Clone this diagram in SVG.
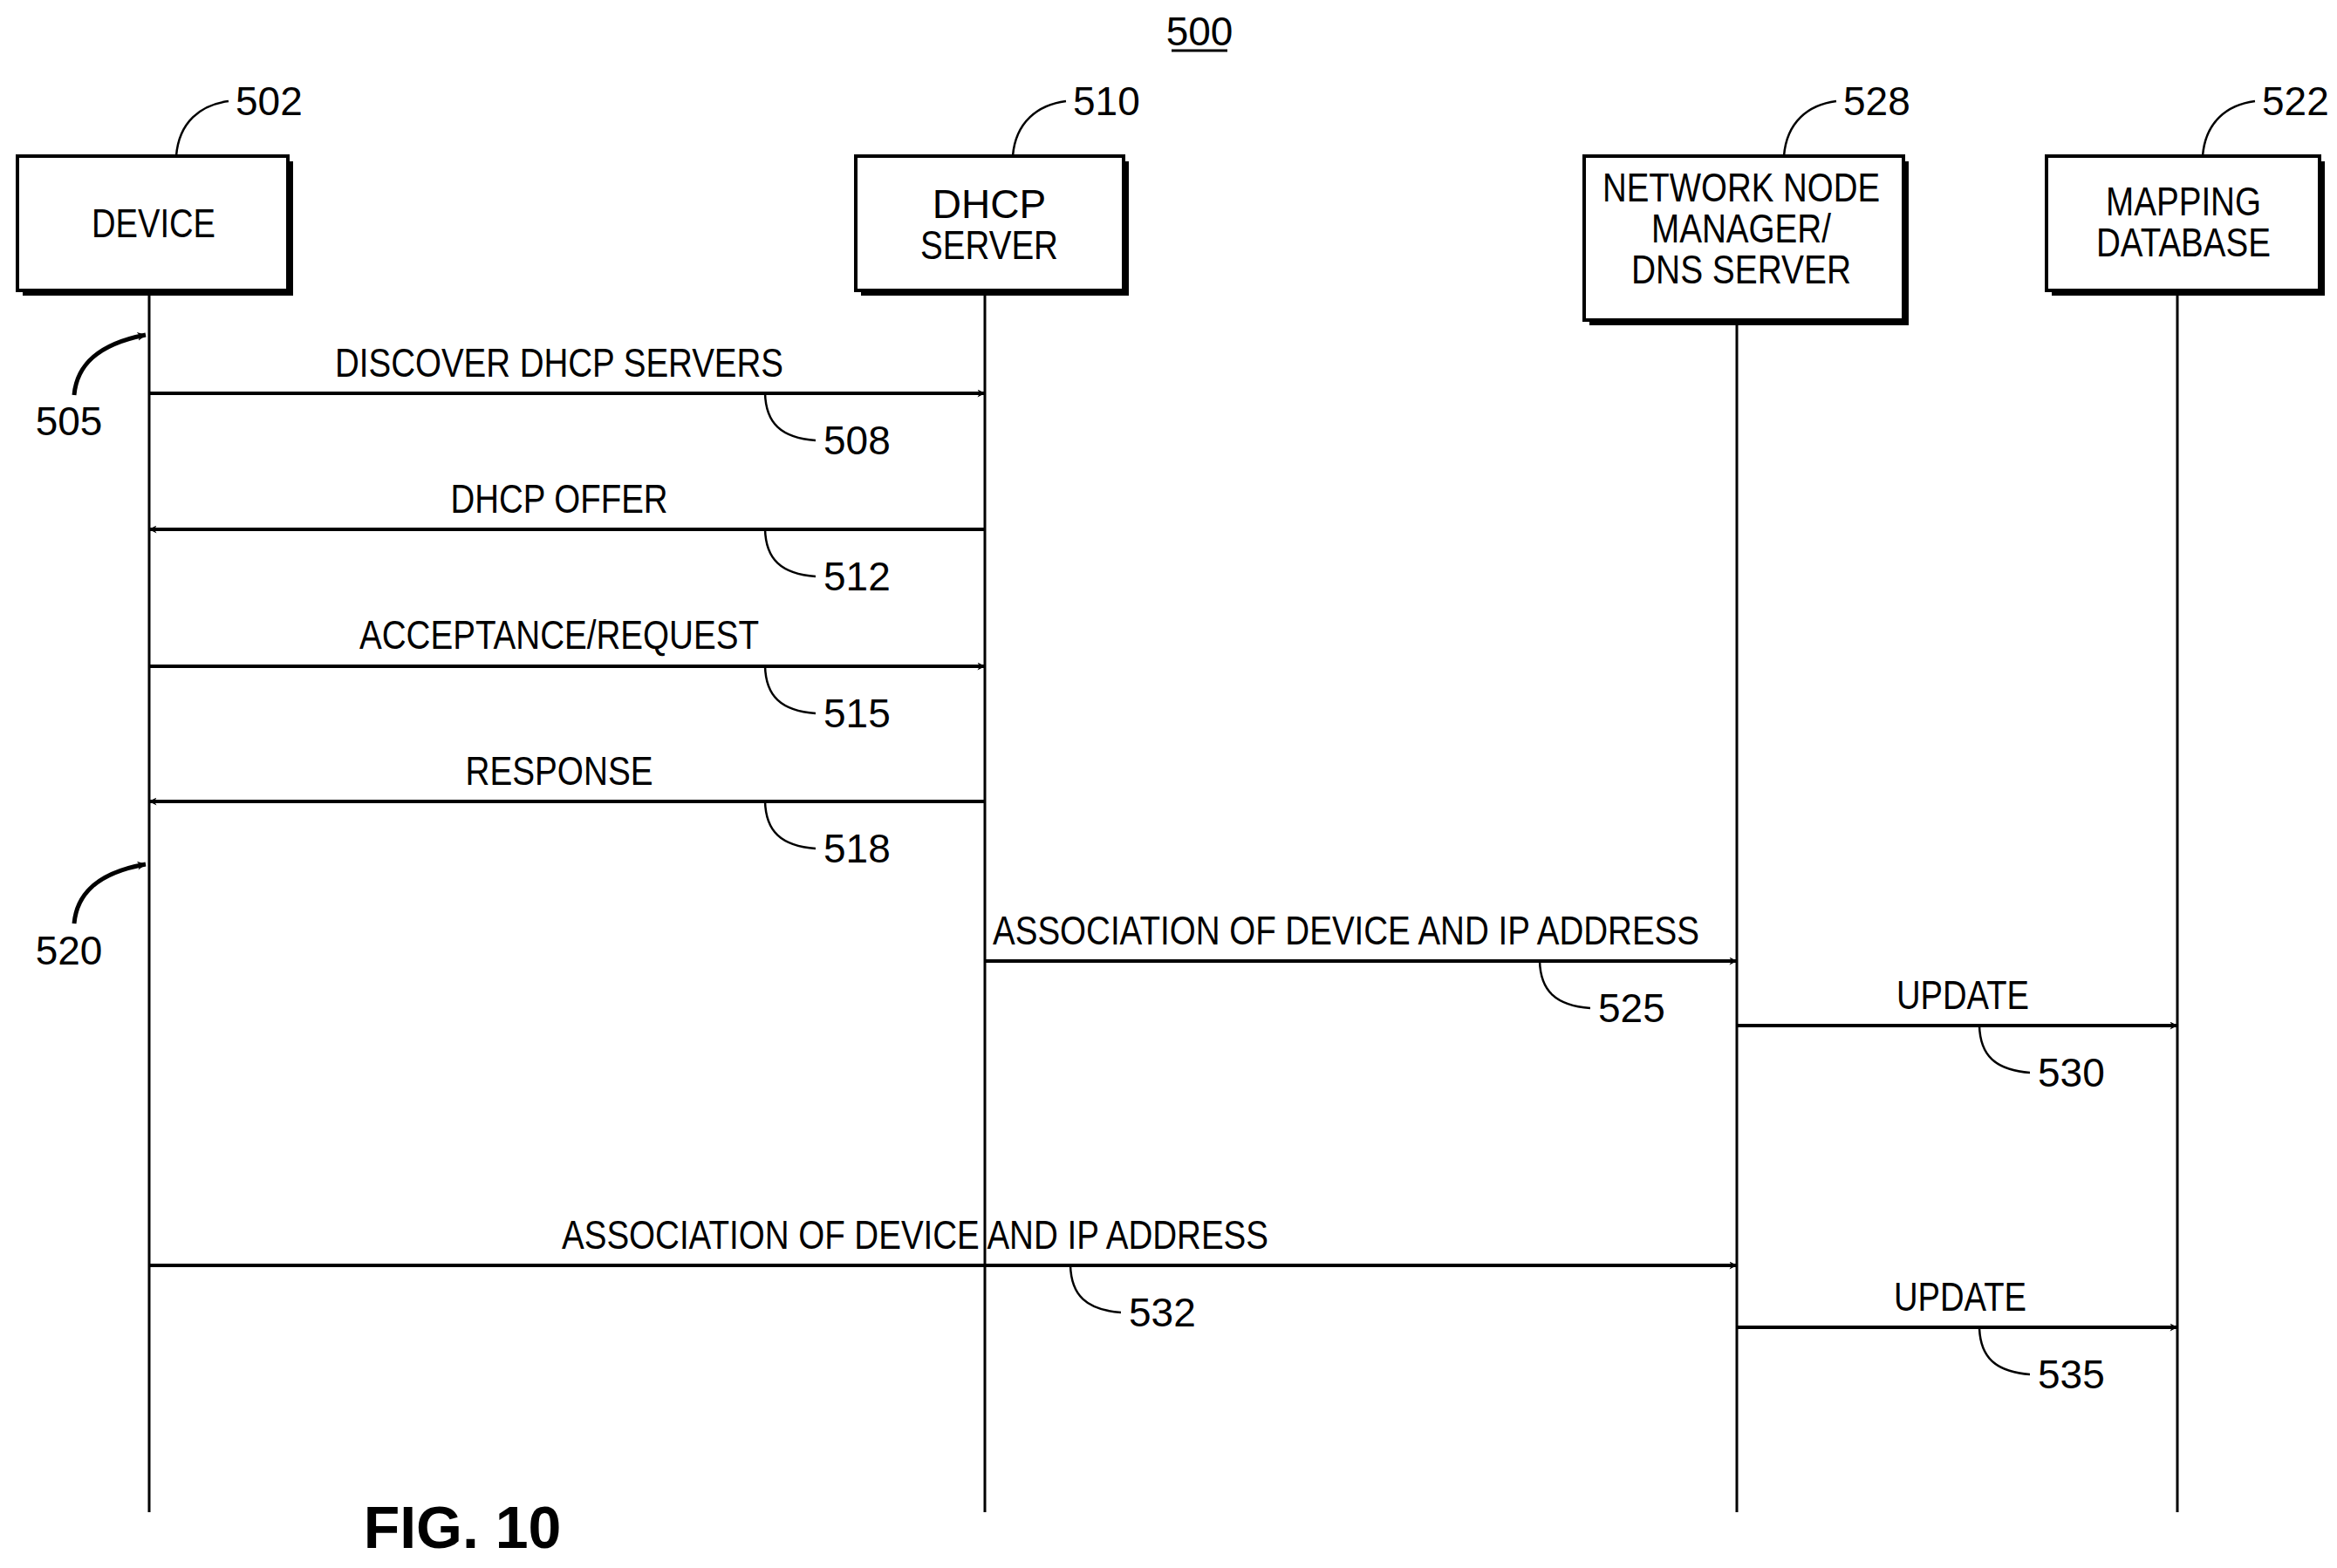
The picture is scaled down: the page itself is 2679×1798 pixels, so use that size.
<svg xmlns="http://www.w3.org/2000/svg" width="2679" height="1798" viewBox="0 0 2679 1798">
<style>
text{font-family:"Liberation Sans Narrow","Liberation Sans",Arial,sans-serif;font-size:46px;fill:#000;text-anchor:middle}
.box{fill:#fff;stroke:#000;stroke-width:4}
.sh{fill:#000}
.life{stroke:#000;stroke-width:3;fill:none}
.msg{stroke:#000;stroke-width:4;fill:none;marker-end:url(#ah)}
.lead{stroke:#000;stroke-width:2.5;fill:none}
.ref{text-anchor:start}
</style>
<defs>
<marker id="ah" viewBox="0 0 20 20" refX="19" refY="10" markerWidth="9" markerHeight="9" orient="auto" markerUnits="userSpaceOnUse">
<path d="M0,0 L20,10 L0,20 L6,10 Z" fill="#000"/>
</marker>
<marker id="ah2" viewBox="0 0 20 20" refX="19" refY="10" markerWidth="10" markerHeight="10" orient="auto" markerUnits="userSpaceOnUse">
<path d="M0,0 L20,10 L0,20 L6,10 Z" fill="#000"/>
</marker>
</defs>
<rect width="2679" height="1798" fill="#fff"/>
<text x="1375" y="52">500</text>
<line x1="1343" y1="58" x2="1407" y2="58" stroke="#000" stroke-width="3"/>

<g id="device">
<rect class="sh" x="26" y="185" width="310" height="154"/>
<rect class="box" x="20" y="179" width="310" height="154"/>
<text x="176" y="272" textLength="142" lengthAdjust="spacingAndGlyphs">DEVICE</text>
<path class="lead" d="M202,179 C205,140 230,120 262,116"/>
<text class="ref" x="270" y="132">502</text>
</g>
<g id="dhcp">
<rect class="sh" x="987" y="185" width="307" height="154"/>
<rect class="box" x="981" y="179" width="307" height="154"/>
<text x="1134" y="250">DHCP</text>
<text x="1134" y="297" textLength="158" lengthAdjust="spacingAndGlyphs">SERVER</text>
<path class="lead" d="M1161,179 C1164,140 1190,120 1222,116"/>
<text class="ref" x="1230" y="132">510</text>
</g>
<g id="nnm">
<rect class="sh" x="1822" y="185" width="366" height="188"/>
<rect class="box" x="1816" y="179" width="366" height="188"/>
<text x="1996" y="231" textLength="318" lengthAdjust="spacingAndGlyphs">NETWORK NODE</text>
<text x="1996" y="278" textLength="206" lengthAdjust="spacingAndGlyphs">MANAGER/</text>
<text x="1996" y="325" textLength="252" lengthAdjust="spacingAndGlyphs">DNS SERVER</text>
<path class="lead" d="M2045,179 C2048,140 2073,120 2105,116"/>
<text class="ref" x="2113" y="132">528</text>
</g>
<g id="mapping">
<rect class="sh" x="2352" y="185" width="313" height="154"/>
<rect class="box" x="2346" y="179" width="313" height="154"/>
<text x="2503" y="247" textLength="178" lengthAdjust="spacingAndGlyphs">MAPPING</text>
<text x="2503" y="294" textLength="200" lengthAdjust="spacingAndGlyphs">DATABASE</text>
<path class="lead" d="M2525,179 C2528,140 2553,120 2585,116"/>
<text class="ref" x="2593" y="132">522</text>
</g>

<g id="connectors">
<line class="life" x1="171" y1="339" x2="171" y2="1734"/>
<line class="life" x1="1129" y1="339" x2="1129" y2="1734"/>
<line class="life" x1="1991" y1="373" x2="1991" y2="1734"/>
<line class="life" x1="2496" y1="339" x2="2496" y2="1734"/>

<line class="msg" x1="171" y1="451" x2="1129" y2="451"/>
<line class="msg" x1="1129" y1="607" x2="171" y2="607"/>
<line class="msg" x1="171" y1="764" x2="1129" y2="764"/>
<line class="msg" x1="1129" y1="919" x2="171" y2="919"/>
<line class="msg" x1="1129" y1="1102" x2="1991" y2="1102"/>
<line class="msg" x1="1991" y1="1176" x2="2496" y2="1176"/>
<line class="msg" x1="171" y1="1451" x2="1991" y2="1451"/>
<line class="msg" x1="1991" y1="1522" x2="2496" y2="1522"/>

<path d="M85,453 C88,420 110,395 167,384" stroke="#000" stroke-width="5" fill="none" marker-end="url(#ah2)"/>
<path d="M85,1059 C88,1026 110,1001 167,991" stroke="#000" stroke-width="5" fill="none" marker-end="url(#ah2)"/>

<path class="lead" d="M877,451 C878,485 895,502 935,505"/>
<path class="lead" d="M877,607 C878,641 895,658 935,661"/>
<path class="lead" d="M877,764 C878,798 895,815 935,818"/>
<path class="lead" d="M877,919 C878,953 895,970 935,973"/>
<path class="lead" d="M1765,1102 C1766,1136 1783,1153 1823,1156"/>
<path class="lead" d="M2269,1176 C2270,1210 2287,1227 2327,1230"/>
<path class="lead" d="M1227,1451 C1228,1485 1245,1502 1285,1505"/>
<path class="lead" d="M2269,1522 C2270,1556 2287,1573 2327,1576"/>
</g>

<g id="labels">
<text x="641" y="432" textLength="514" lengthAdjust="spacingAndGlyphs">DISCOVER DHCP SERVERS</text>
<text x="641" y="588" textLength="249" lengthAdjust="spacingAndGlyphs">DHCP OFFER</text>
<text x="641" y="744" textLength="458" lengthAdjust="spacingAndGlyphs">ACCEPTANCE/REQUEST</text>
<text x="641" y="900" textLength="215" lengthAdjust="spacingAndGlyphs">RESPONSE</text>
<text x="1543" y="1083" textLength="810" lengthAdjust="spacingAndGlyphs">ASSOCIATION OF DEVICE AND IP ADDRESS</text>
<text x="2250" y="1157" textLength="152" lengthAdjust="spacingAndGlyphs">UPDATE</text>
<text x="1049" y="1432" textLength="810" lengthAdjust="spacingAndGlyphs">ASSOCIATION OF DEVICE AND IP ADDRESS</text>
<text x="2247" y="1503" textLength="152" lengthAdjust="spacingAndGlyphs">UPDATE</text>

<text x="79" y="499">505</text>
<text x="79" y="1106">520</text>
<text class="ref" x="944" y="521">508</text>
<text class="ref" x="944" y="677">512</text>
<text class="ref" x="944" y="834">515</text>
<text class="ref" x="944" y="989">518</text>
<text class="ref" x="1832" y="1172">525</text>
<text class="ref" x="2336" y="1246">530</text>
<text class="ref" x="1294" y="1521">532</text>
<text class="ref" x="2336" y="1592">535</text>
<text x="530" y="1775" style="font-family:'Liberation Sans',Arial,sans-serif;font-weight:bold;font-size:68px">FIG. 10</text>
</g>
</svg>
